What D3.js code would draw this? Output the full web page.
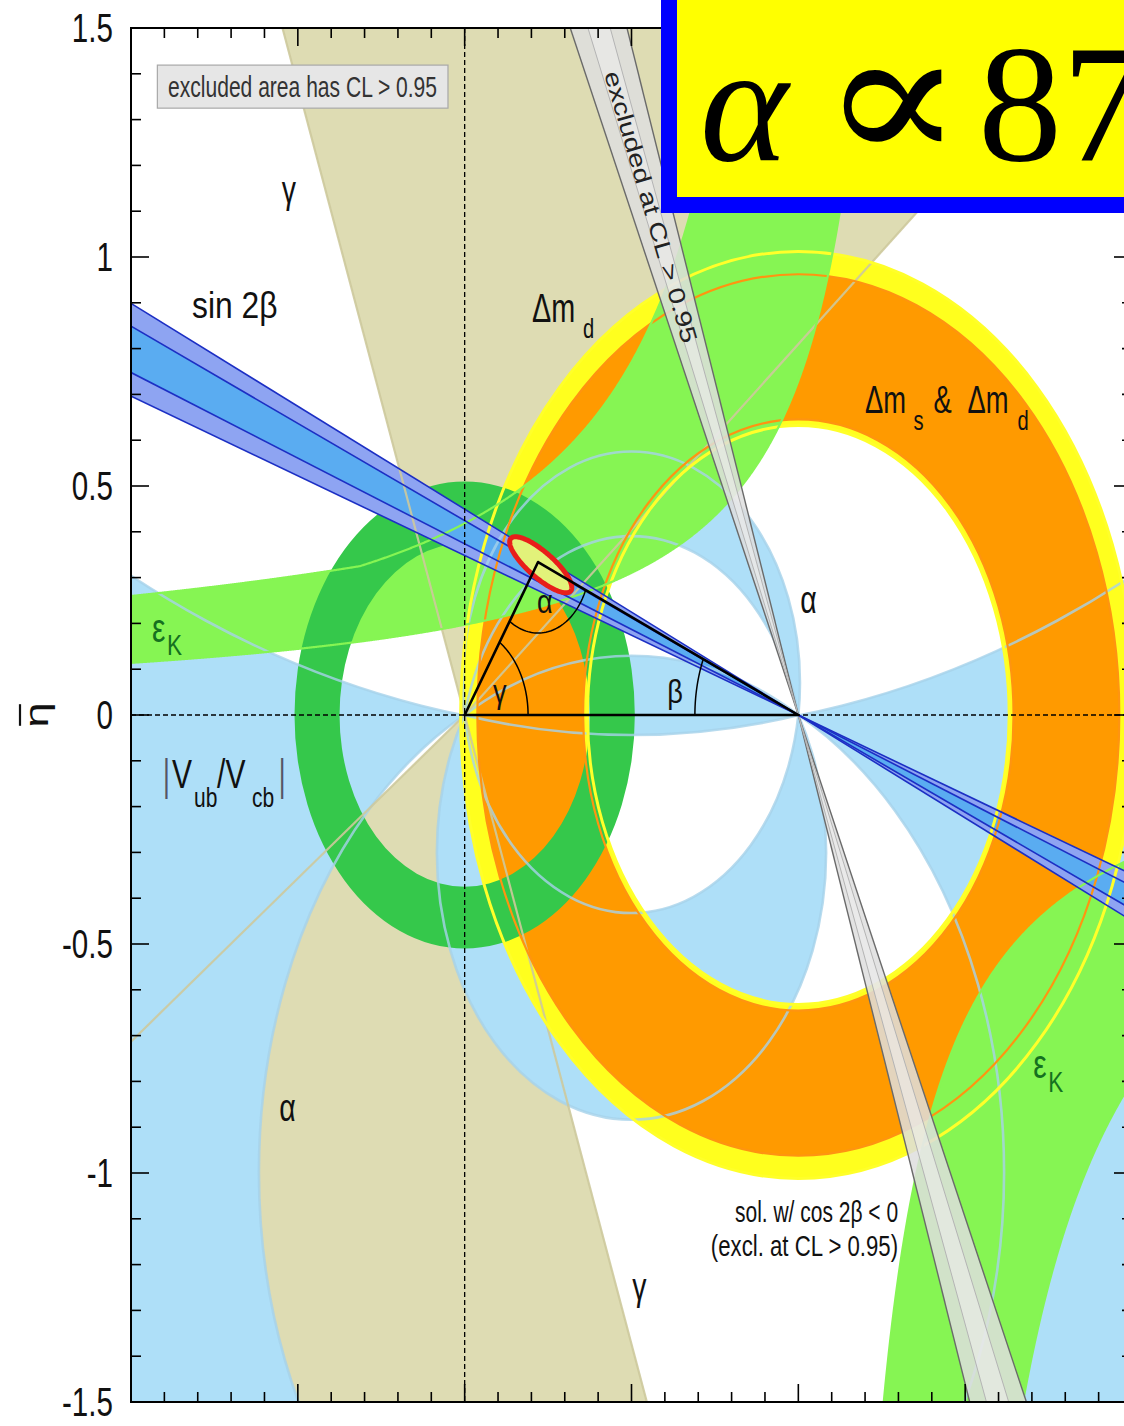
<!DOCTYPE html>
<html>
<head>
<meta charset="utf-8">
<script src="https://cdn.jsdelivr.net/npm/d3@7"></script>
<style>
  html, body { margin: 0; padding: 0; background: #ffffff; }
  svg { display: block; }
</style>
</head>
<body>
<svg id="chart" width="1124" height="1426"></svg>
<script>
// ---- axis ranges and ticks (rho-bar, eta-bar) ----
const rhoDomain = [-1, 2];
const etaDomain = [-1.5, 1.5];
const etaTickValues = [-1.5, -1, -0.5, 0, 0.5, 1, 1.5];
const etaTickLabels = ["-1.5", "-1", "-0.5", "0", "0.5", "1", "1.5"];

// ---- constraints ----
// gamma: allowed directions (deg) of the apex seen from (0,0)
const gammaUpperDeg = [39, 110];
const gammaLowerDeg = [-144.5, -70];
// alpha: allowed apex angle ranges (deg), upper and lower half plane
const alphaUpperRanges = [[0, 8.3], [82, 104], [151, 180]];
const alphaLowerRanges = [[0, 26.6], [59, 98.3], [170, 180]];
// Delta m_d and Delta m_s & Delta m_d: radii of the rings around (1,0)
const dmdRadii = [0.632, 1.012];
const dmsRadii = [0.645, 0.962];
// |Vub/Vcb|: radii of the ring around (0,0)
const vubRadii = [0.375, 0.51];
// epsilon_K: hyperbola boundaries eta = c / (a - rho)
const epsUpperLow = { a: 1.37, c: 0.27 };
const epsUpperHigh = [{ a: 1.094, c: 0.4576 }, { a: 2.415, c: 0.887 }];
const epsLowerInner = { a: 1.06, c: 0.294 };
const epsLowerOuter = { a: 1.30, c: 0.56 };
// sin 2beta: beta ranges (deg), 95% CL and 68% CL
const sin2bOuterDeg = [19.2, 24.2];
const sin2bInnerDeg = [20.5, 23.0];
// second sin 2beta solution (cos 2beta < 0), excluded
const cos2bExclDeg = [65.5, 71.1];
const cos2bExclInnerDeg = [67.2, 69.4];
// fitted apex and global-fit contour (centre, semi-axes, tilt in deg)
const apex = [0.22, 0.334];
const fitContour = { rho: 0.228, eta: 0.328, major: 0.107, minor: 0.031, tilt: -31 };

// ---- scales ----
const svg = d3.select("#chart");
const x = d3.scaleLinear().domain(rhoDomain).range([131, 1132]);
const y = d3.scaleLinear().domain(etaDomain).range([1402, 28]);
const rad = d => d * Math.PI / 180;

const C = {
  tan: "#dedcb3", alpha: "#aedff8", yellow: "#ffff1e", orange: "#ff9a00",
  lgreen: "#86f553", dgreen: "#35c84b", s2bOuter: "#8ea4f2", s2bInner: "#5aacf1",
  s2bLine: "#1c2fc4", grey: "#dedede", greyInner: "#ececec", greyEdge: "#6a6a6a"
};
const SANS = "'Liberation Sans', Arial, Helvetica, sans-serif";

const defs = svg.append("defs");
defs.append("clipPath").attr("id", "plotClip").append("rect")
  .attr("x", x(-1)).attr("y", y(1.5))
  .attr("width", x(2) - x(-1)).attr("height", y(-1.5) - y(1.5));
defs.append("clipPath").attr("id", "upperClip").append("rect")
  .attr("x", x(-1)).attr("y", y(1.5))
  .attr("width", x(2) - x(-1)).attr("height", y(0) - y(1.5));
defs.append("clipPath").attr("id", "lowerClip").append("rect")
  .attr("x", x(-1)).attr("y", y(0))
  .attr("width", x(2) - x(-1)).attr("height", y(-1.5) - y(0));

const plot = svg.append("g").attr("clip-path", "url(#plotClip)");

// circle in (rho, eta) space drawn as an SVG ellipse path
function ellipseD(cr, ce, R) {
  const px = x(cr), py = y(ce), rx = x(cr + R) - px, ry = py - y(ce + R);
  return `M${px - rx},${py}A${rx},${ry} 0 1 0 ${px + rx},${py}A${rx},${ry} 0 1 0 ${px - rx},${py}Z`;
}
function halfPlaneD(sign) {
  return `M${x(-5)},${y(0)}H${x(6)}V${y(sign * 6)}H${x(-5)}Z`;
}
// circle of constant apex angle a through (0,0) and (1,0)
function alphaCircle(a, sign) {
  return [0.5, sign * 0.5 / Math.tan(rad(a)), 0.5 / Math.sin(rad(a))];
}
const line = d3.line().x(d => x(d[0])).y(d => y(d[1]));

// ---- gamma ----
function wedgeFromOrigin(a1, a2) {
  const L = 6;
  return [[0, 0], [L * Math.cos(rad(a1)), L * Math.sin(rad(a1))],
          [L * Math.cos(rad(a2)), L * Math.sin(rad(a2))]];
}
[gammaUpperDeg, gammaLowerDeg].forEach(g => {
  plot.append("path").attr("d", line(wedgeFromOrigin(g[0], g[1])) + "Z").attr("fill", C.tan);
});

// ---- alpha ----
function alphaRegionD(range, sign) {
  const [a1, a2] = range;
  let d = a1 <= 0 ? halfPlaneD(sign) : ellipseD(...alphaCircle(a1, sign));
  if (a2 < 180) d += ellipseD(...alphaCircle(a2, sign));
  return d;
}
const alphaUpperG = plot.append("g").attr("clip-path", "url(#upperClip)");
alphaUpperRanges.forEach(r => alphaUpperG.append("path")
  .attr("d", alphaRegionD(r, 1)).attr("fill", C.alpha).attr("fill-rule", "evenodd"));
const alphaLowerG = plot.append("g").attr("clip-path", "url(#lowerClip)");
alphaLowerRanges.forEach(r => alphaLowerG.append("path")
  .attr("d", alphaRegionD(r, -1)).attr("fill", C.alpha).attr("fill-rule", "evenodd"));

// ---- Delta m rings ----
function ringD(cr, ce, radii) { return ellipseD(cr, ce, radii[1]) + ellipseD(cr, ce, radii[0]); }
plot.append("path").attr("d", ringD(1, 0, dmdRadii)).attr("fill", C.yellow).attr("fill-rule", "evenodd");
plot.append("path").attr("d", ringD(1, 0, dmsRadii)).attr("fill", C.orange).attr("fill-rule", "evenodd");

// ---- epsilon_K ----
const CAP = 1.8;
const hyp = (p, r) => r < p.a ? p.c / (p.a - r) : Infinity;
const epsUpper = d3.range(-1.05, 1.40, 0.002).map(r => ({
  r,
  lo: Math.min(hyp(epsUpperLow, r), CAP),
  hi: Math.min(d3.max(epsUpperHigh, p => hyp(p, r)), CAP)
}));
const lowerBranch = (p, r) => r > p.a ? Math.max(-p.c / (r - p.a), -CAP) : -CAP;
const epsLower = d3.range(epsLowerInner.a + 0.0005, 2.1, 0.002).map(r => ({
  r, inner: lowerBranch(epsLowerInner, r), outer: lowerBranch(epsLowerOuter, r)
}));
plot.append("path").datum(epsUpper)
  .attr("d", d3.area().x(d => x(d.r)).y0(d => y(d.lo)).y1(d => y(d.hi)))
  .attr("fill", C.lgreen);
plot.append("path").datum(epsLower)
  .attr("d", d3.area().x(d => x(d.r)).y0(d => y(d.outer)).y1(d => y(d.inner)))
  .attr("fill", C.lgreen);

// ---- |Vub/Vcb| ----
plot.append("path").attr("d", ringD(0, 0, vubRadii)).attr("fill", C.dgreen).attr("fill-rule", "evenodd");

// ---- sin 2beta (double wedge through (1,0)) ----
function dirA(b) { return [-Math.cos(rad(b)), Math.sin(rad(b))]; }
function wedgeThroughA(b1, b2) {
  const L = 5, d1 = dirA(b1), d2 = dirA(b2);
  return [[1 + L * d1[0], L * d1[1]], [1 + L * d2[0], L * d2[1]], [1, 0],
          [1 - L * d2[0], -L * d2[1]], [1 - L * d1[0], -L * d1[1]], [1, 0]];
}
function lineThroughA(b) {
  const L = 5, d = dirA(b);
  return [[1 + L * d[0], L * d[1]], [1 - L * d[0], -L * d[1]]];
}
plot.append("path").attr("d", line(wedgeThroughA(...sin2bOuterDeg)) + "Z").attr("fill", C.s2bOuter);
plot.append("path").attr("d", line(wedgeThroughA(...sin2bInnerDeg)) + "Z").attr("fill", C.s2bInner);

// ---- boundary lines of the constraints ----
const lines = plot.append("g").attr("fill", "none");
const alphaLinesU = lines.append("g").attr("clip-path", "url(#upperClip)");
const alphaLinesL = lines.append("g").attr("clip-path", "url(#lowerClip)");
alphaUpperRanges.flat().filter(a => a > 0 && a < 180).forEach(a =>
  alphaLinesU.append("path").attr("d", ellipseD(...alphaCircle(a, 1)))
    .attr("stroke", "#a6d2ea").attr("stroke-width", 2.6).attr("stroke-opacity", 0.8));
alphaLowerRanges.flat().filter(a => a > 0 && a < 180).forEach(a =>
  alphaLinesL.append("path").attr("d", ellipseD(...alphaCircle(a, -1)))
    .attr("stroke", "#a6d2ea").attr("stroke-width", 2.6).attr("stroke-opacity", 0.8));
gammaUpperDeg.concat(gammaLowerDeg).forEach(a =>
  lines.append("path").attr("d", line([[0, 0], [6 * Math.cos(rad(a)), 6 * Math.sin(rad(a))]]))
    .attr("stroke", "#cdc99c").attr("stroke-width", 2.2).attr("stroke-opacity", 0.9));
dmdRadii.forEach(R => lines.append("path").attr("d", ellipseD(1, 0, R))
  .attr("stroke", "#ffff2a").attr("stroke-width", 3));
dmsRadii.forEach(R => lines.append("path").attr("d", ellipseD(1, 0, R))
  .attr("stroke", "#ff9410").attr("stroke-width", 2.2));
const epsLine = d3.line().defined(d => Math.abs(d[1]) < 1.7).x(d => x(d[0])).y(d => y(d[1]));
lines.append("path").attr("d", epsLine(epsUpper.map(d => [d.r, d.lo])))
  .attr("stroke", C.lgreen).attr("stroke-width", 2.2);
lines.append("path").attr("d", epsLine(epsUpper.map(d => [d.r, d.hi])))
  .attr("stroke", C.lgreen).attr("stroke-width", 2.2);
lines.append("path").attr("d", epsLine(epsLower.map(d => [d.r, d.inner])))
  .attr("stroke", C.lgreen).attr("stroke-width", 2.2);
lines.append("path").attr("d", epsLine(epsLower.map(d => [d.r, d.outer])))
  .attr("stroke", C.lgreen).attr("stroke-width", 2.2);

// ---- excluded cos 2beta < 0 band ----
plot.append("path").attr("d", line(wedgeThroughA(...cos2bExclDeg)) + "Z")
  .attr("fill", C.grey).attr("fill-opacity", 0.85);
plot.append("path").attr("d", line(wedgeThroughA(...cos2bExclInnerDeg)) + "Z")
  .attr("fill", C.greyInner).attr("fill-opacity", 0.6);
cos2bExclDeg.forEach(b => plot.append("path").attr("d", line(lineThroughA(b)))
  .attr("stroke", C.greyEdge).attr("stroke-width", 1.4).attr("fill", "none"));
cos2bExclInnerDeg.forEach(b => plot.append("path").attr("d", line(lineThroughA(b)))
  .attr("stroke", "#b4b4b4").attr("stroke-width", 1).attr("fill", "none"));

// sin 2beta edges
sin2bOuterDeg.concat(sin2bInnerDeg).forEach(b => plot.append("path")
  .attr("d", line(lineThroughA(b))).attr("stroke", C.s2bLine)
  .attr("stroke-width", 1.6).attr("fill", "none"));

// ---- dashed axes through the origin ----
plot.append("line").attr("x1", x(0)).attr("x2", x(0)).attr("y1", y(1.5)).attr("y2", y(-1.5))
  .attr("stroke", "#000").attr("stroke-width", 1.3).attr("stroke-dasharray", "5,3");
plot.append("line").attr("x1", x(-1)).attr("x2", x(2)).attr("y1", y(0)).attr("y2", y(0))
  .attr("stroke", "#000").attr("stroke-width", 1.3).attr("stroke-dasharray", "5,3");

// ---- global fit contour ----
const u = [Math.cos(rad(fitContour.tilt)), Math.sin(rad(fitContour.tilt))];
const v = [-u[1], u[0]];
const contourPts = d3.range(0, 2 * Math.PI, Math.PI / 90).map(t => [
  fitContour.rho + fitContour.major * Math.cos(t) * u[0] + fitContour.minor * Math.sin(t) * v[0],
  fitContour.eta + fitContour.major * Math.cos(t) * u[1] + fitContour.minor * Math.sin(t) * v[1]]);
plot.append("path").attr("d", d3.line().x(d => x(d[0])).y(d => y(d[1])).curve(d3.curveLinearClosed)(contourPts))
  .attr("fill", "#e2f27a").attr("stroke", "#e81e1a").attr("stroke-width", 5);

// ---- unitarity triangle ----
plot.append("path").attr("d", line([[0, 0], apex, [1, 0]]) + "Z")
  .attr("fill", "none").attr("stroke", "#000").attr("stroke-width", 2.6).attr("stroke-linejoin", "round");
function arcPts(c, r, a0, a1) {
  return d3.range(0, 1.0001, 0.02).map(f => {
    const a = a0 + (a1 - a0) * f;
    return [c[0] + r * Math.cos(a), c[1] + r * Math.sin(a)];
  });
}
const gAng = Math.atan2(apex[1], apex[0]);
const bAng = Math.atan2(apex[1], 1 - apex[0]);
const toO = Math.atan2(-apex[1], -apex[0]), toA = Math.atan2(-apex[1], 1 - apex[0]);
[[[0, 0], 0.19, 0, gAng], [[1, 0], 0.31, Math.PI, Math.PI - bAng], [apex, 0.155, toO, toA]]
  .forEach(([c, r, a0, a1]) => plot.append("path").attr("d", line(arcPts(c, r, a0, a1)))
    .attr("fill", "none").attr("stroke", "#000").attr("stroke-width", 1.5));

// ---- labels ----
function label(g, str, rho, eta, o = {}) {
  const t = g.append("text")
    .attr("transform", `translate(${x(rho)},${y(eta)}) scale(${o.sx || 0.75},1)`)
    .attr("font-size", o.size || 38)
    .attr("font-family", o.family || SANS)
    .attr("fill", o.color || "#111")
    .attr("text-anchor", o.anchor || "start")
    .text(str);
  if (o.italic) t.attr("font-style", "italic");
  return t;
}
const L = svg.append("g");
label(L, "sin 2β", -0.817, 0.867, { size: 37, sx: 0.86 });
label(L, "Δm", 0.202, 0.858, { size: 40, sx: 0.72 });
label(L, "d", 0.355, 0.823, { size: 28, sx: 0.72 });
label(L, "Δm", 1.200, 0.659, { size: 38, sx: 0.72 });
label(L, "s", 1.345, 0.622, { size: 28, sx: 0.72 });
label(L, "&", 1.405, 0.659, { size: 38, sx: 0.72 });
label(L, "Δm", 1.507, 0.659, { size: 38, sx: 0.72 });
label(L, "d", 1.657, 0.622, { size: 28, sx: 0.72 });
const epsColor = "#157020";
label(L, "ε", -0.937, 0.159, { size: 40, sx: 0.75, color: epsColor });
label(L, "K", -0.892, 0.131, { size: 30, sx: 0.75, color: epsColor });
label(L, "ε", 1.704, -0.793, { size: 40, sx: 0.75, color: epsColor });
label(L, "K", 1.749, -0.823, { size: 30, sx: 0.75, color: epsColor });
label(L, "α", 1.006, 0.223, { size: 38, sx: 0.75 });
label(L, "α", -0.556, -0.886, { size: 38, sx: 0.75 });
label(L, "γ", -0.548, 1.118, { size: 38, sx: 0.75 });
label(L, "γ", 0.502, -1.277, { size: 38, sx: 0.75 });
label(L, "|", -0.904, -0.163, { size: 44, sx: 0.6, color: "#556" });
label(L, "V", -0.877, -0.159, { size: 40, sx: 0.75 });
label(L, "ub", -0.811, -0.201, { size: 28, sx: 0.75 });
label(L, "/V", -0.742, -0.159, { size: 40, sx: 0.75 });
label(L, "cb", -0.637, -0.201, { size: 28, sx: 0.75 });
label(L, "|", -0.557, -0.163, { size: 44, sx: 0.6, color: "#556" });
label(L, "sol. w/ cos 2β < 0", 1.299, -1.107, { size: 30, sx: 0.70, anchor: "end" });
label(L, "(excl. at CL > 0.95)", 1.299, -1.181, { size: 30, sx: 0.74, anchor: "end" });
label(L, "α", 0.217, 0.223, { size: 34, sx: 0.8 });
label(L, "γ", 0.085, 0.026, { size: 34, sx: 0.8 });
label(L, "β", 0.607, 0.026, { size: 34, sx: 0.8 });

// legend box
const lb = { r0: -0.921, r1: -0.05, e0: 1.419, e1: 1.325 };
L.append("rect").attr("x", x(lb.r0)).attr("y", y(lb.e0))
  .attr("width", x(lb.r1) - x(lb.r0)).attr("height", y(lb.e1) - y(lb.e0))
  .attr("fill", "#e6e6e6").attr("stroke", "#a8a8a8").attr("stroke-width", 1.2);
L.append("text").attr("x", x(-0.889)).attr("y", y(1.349))
  .attr("font-family", SANS).attr("font-size", 30).attr("fill", "#333")
  .attr("textLength", 269).attr("lengthAdjust", "spacingAndGlyphs")
  .text("excluded area has CL > 0.95");

// text along the excluded band
{
  const bMid = (cos2bExclDeg[0] + cos2bExclDeg[1]) / 2;
  const e0 = 1.405, r0 = 1 - e0 / Math.tan(rad(bMid));
  const p0 = [x(r0), y(e0)], p1 = [x(1), y(0)];
  const ang = Math.atan2(p1[1] - p0[1], p1[0] - p0[0]) * 180 / Math.PI;
  L.append("text").attr("transform", `translate(${p0[0]},${p0[1]}) rotate(${ang})`)
    .attr("font-family", SANS).attr("font-size", 23).attr("fill", "#222")
    .attr("dominant-baseline", "central")
    .attr("textLength", 282).attr("lengthAdjust", "spacingAndGlyphs")
    .text("excluded at CL > 0.95");
}

// ---- frame, ticks, tick labels ----
const axes = svg.append("g").attr("stroke", "#000");
const x0 = x(-1), x1 = x(2), y0 = y(1.5), y1 = y(-1.5);
const isMajor = v => Math.abs(v * 2 - Math.round(v * 2)) < 1e-6;
d3.range(-1.5, 1.5001, 0.1).forEach(e => {
  const len = isMajor(e) ? 18 : 10, yy = y(e);
  axes.append("line").attr("x1", x0).attr("x2", x0 + len).attr("y1", yy).attr("y2", yy).attr("stroke-width", 1.6);
  axes.append("line").attr("x1", x1).attr("x2", x1 - len).attr("y1", yy).attr("y2", yy).attr("stroke-width", 1.6);
});
d3.range(-1, 2.0001, 0.1).forEach(r => {
  const len = isMajor(r) ? 18 : 10, xx = x(r);
  axes.append("line").attr("x1", xx).attr("x2", xx).attr("y1", y1).attr("y2", y1 - len).attr("stroke-width", 1.6);
  axes.append("line").attr("x1", xx).attr("x2", xx).attr("y1", y0).attr("y2", y0 + len).attr("stroke-width", 1.6);
});
axes.append("rect").attr("x", x0).attr("y", y0).attr("width", x1 - x0).attr("height", y1 - y0)
  .attr("fill", "none").attr("stroke-width", 2);

etaTickValues.forEach((e, i) => {
  svg.append("text").attr("transform", `translate(113,${y(e) + 14}) scale(0.74,1)`)
    .attr("text-anchor", "end").attr("font-family", SANS).attr("font-size", 40)
    .attr("fill", "#111").text(etaTickLabels[i]);
});

// axis title eta-bar
{
  const g = svg.append("g").attr("transform", `translate(40,${y(0)}) rotate(-90) scale(1.35,1)`);
  g.append("text").attr("text-anchor", "middle").attr("y", 8)
    .attr("font-family", SANS).attr("font-size", 34).attr("fill", "#111").text("η");
  g.append("line").attr("x1", -8).attr("x2", 8).attr("y1", -20).attr("y2", -20)
    .attr("stroke", "#111").attr("stroke-width", 2.2);
}

// ---- highlighted value box ----
const box = svg.append("g");
box.append("rect").attr("x", 669).attr("y", -30).attr("width", 600).attr("height", 235)
  .attr("fill", "#ffff00").attr("stroke", "#0000ff").attr("stroke-width", 16);
const SERIF = "'Liberation Serif', 'DejaVu Serif', 'Times New Roman', serif";
box.append("text").attr("x", 700).attr("y", 160).attr("font-family", SERIF)
  .attr("font-style", "italic").attr("font-size", 168).attr("fill", "#000").text("α");
box.append("text").attr("transform", "translate(821,162) scale(1.26,1.12)")
  .attr("font-family", SERIF).attr("font-size", 168).attr("fill", "#000").text("∝");
box.append("text").attr("x", 978).attr("y", 160).attr("font-family", SERIF)
  .attr("font-size", 168).attr("fill", "#000").text("87");
</script>
</body>
</html>
